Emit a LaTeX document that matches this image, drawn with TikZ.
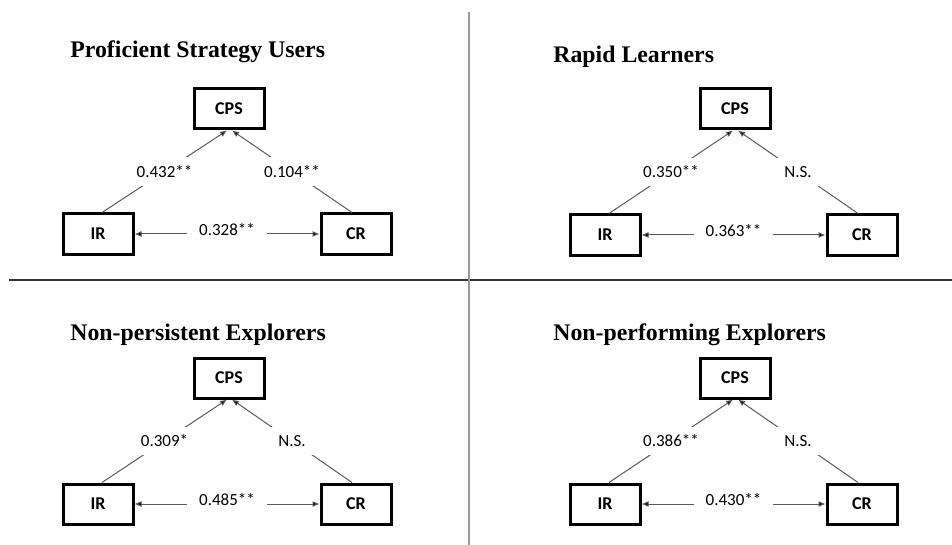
\documentclass[tikz,border=0pt]{standalone}
\usepackage{fontspec}
\setmainfont{Liberation Serif}
\newfontfamily\labelfont{Carlito}
\usetikzlibrary{arrows.meta}
\tikzset{
    x=0.5pt, y=-0.5pt, % one unit is one pixel of the original figure
    >={Latex[length=3.5pt,width=3pt]}, % small filled arrow heads
    var/.style={draw, line width=1.5pt, minimum width=35pt, minimum height=20pt,
        font={\labelfont\bfseries\fontsize{9}{10}\selectfont}}, % the boxed variables
    link/.style={draw=black!65, line width=0.5pt}, % the paths between the boxes
    coef/.style={fill=white, inner xsep=6pt, inner ysep=4pt,
        font={\labelfont\fontsize{8.5}{10}\selectfont}}, % the path coefficients
    group/.style={anchor=west, inner sep=0pt,
        font={\bfseries\fontsize{11.9}{14}\selectfont}}, % the group titles
}

\begin{document}
\begin{tikzpicture}
    \useasboundingbox (0,0) rectangle (952,545);

    % Proficient strategy users
    \node[group] (t1) at (70,52) {Proficient Strategy Users};
    \node[var] (cps1) at (229,109) {CPS};
    \node[var] (ir1) at (98,234) {IR};
    \node[var] (cr1) at (356,234) {CR};
    \draw[link]
    ([xshift=2pt]ir1.north) edge[->] node[coef]{0.432**} ([xshift=-1pt]cps1.south)
    ([xshift=-2pt]cr1.north) edge[->] node[coef]{0.104**} ([xshift=1.5pt]cps1.south)
    (ir1) edge[<->] node[coef, yshift=2pt]{0.328**} (cr1);

    % Rapid learners
    \node[group] (t2) at (553,57) {Rapid Learners};
    \node[var] (cps2) at (735,109) {CPS};
    \node[var] (ir2) at (605,235) {IR};
    \node[var] (cr2) at (862,235) {CR};
    \draw[link]
    ([xshift=2pt]ir2.north) edge[->] node[coef]{0.350**} ([xshift=-1pt]cps2.south)
    ([xshift=-2pt]cr2.north) edge[->] node[coef]{N.S.} ([xshift=1.5pt]cps2.south)
    (ir2) edge[<->] node[coef, yshift=2pt]{0.363**} (cr2);

    % Non-persistent explorers
    \node[group] (t3) at (70,335) {Non-persistent Explorers};
    \node[var] (cps3) at (229,378) {CPS};
    \node[var] (ir3) at (98,504) {IR};
    \node[var] (cr3) at (356,504) {CR};
    \draw[link]
    ([xshift=2pt]ir3.north) edge[->] node[coef]{0.309*} ([xshift=-1pt]cps3.south)
    ([xshift=-2pt]cr3.north) edge[->] node[coef]{N.S.} ([xshift=1.5pt]cps3.south)
    (ir3) edge[<->] node[coef, yshift=2pt]{0.485**} (cr3);

    % Non-performing explorers
    \node[group] (t4) at (553,335) {Non-performing Explorers};
    \node[var] (cps4) at (735,378) {CPS};
    \node[var] (ir4) at (605,504) {IR};
    \node[var] (cr4) at (862,504) {CR};
    \draw[link]
    ([xshift=2pt]ir4.north) edge[->] node[coef]{0.386**} ([xshift=-1pt]cps4.south)
    ([xshift=-2pt]cr4.north) edge[->] node[coef]{N.S.} ([xshift=1.5pt]cps4.south)
    (ir4) edge[<->] node[coef, yshift=2pt]{0.430**} (cr4);

    % quadrant dividers
    \draw[black!80, line width=0.85pt] (9,280) -- (952,280);
    \draw[black!40, line width=1pt] (469,12) -- (469,545);
\end{tikzpicture}
\end{document}
